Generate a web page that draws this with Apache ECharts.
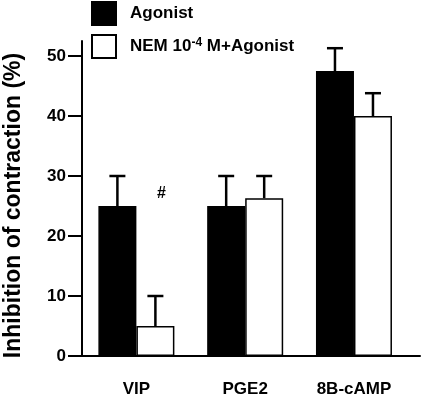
<!DOCTYPE html>
<html>
<head>
<meta charset="utf-8">
<script src="https://cdn.jsdelivr.net/npm/echarts@6/dist/echarts.min.js"></script>
<style>html,body{margin:0;padding:0;background:#fff}#c{width:422px;height:400px}</style>
</head>
<body>
<div id="c"></div>
<script>
const categories = ['VIP', 'PGE2', '8B-cAMP'];
const agonist = [25, 25, 47.5];
const agonistErr = [5, 5, 3.8];
const nem = [5, 26.3, 40];
const nemErr = [5, 3.7, 3.8];
const yTicks = [0, 10, 20, 30, 40, 50];
const annotations = ['#', '', ''];
const annotationValue = [27, null, null];

const FONT = '"Liberation Sans", Arial, sans-serif';
const BW = 38;
const idx = categories.map((c, i) => i);

function errSeries(vals, errs, off) {
  return {
    type: 'custom',
    z: 1,
    data: idx.map(i => [i, vals[i], errs[i]]),
    renderItem: function (params, api) {
      const base = api.coord([api.value(0), api.value(1)]);
      const top = api.coord([api.value(0), api.value(1) + api.value(2)]);
      const x = base[0] + off;
      return {
        type: 'group',
        children: [
          { type: 'line', shape: { x1: x, y1: base[1], x2: x, y2: top[1] }, style: { stroke: '#000', lineWidth: 2.5 } },
          { type: 'line', shape: { x1: x - 8, y1: top[1], x2: x + 8, y2: top[1] }, style: { stroke: '#000', lineWidth: 2.5 } }
        ]
      };
    }
  };
}

const chart = echarts.init(document.getElementById('c'), null, { renderer: 'canvas' });
chart.setOption({
  animation: false,
  grid: { left: 82, right: 2, top: 41, bottom: 44, containLabel: false, outerBoundsMode: 'none' },
  legend: {
    orient: 'vertical', left: 86, top: -4, itemWidth: 24, itemHeight: 23, itemGap: 8,
    icon: 'rect', selectedMode: false,
    textStyle: { fontFamily: FONT, fontWeight: 'bold', fontSize: 17, color: '#000', padding: [0, 0, 0, 9],
      rich: {
        a: { fontFamily: FONT, fontWeight: 'bold', fontSize: 17, color: '#000' },
        sup: { fontFamily: FONT, fontWeight: 'bold', fontSize: 12, color: '#000', padding: [0, 0, 8, 0] }
      }
    },
    formatter: function (name) {
      if (name.indexOf('NEM') === 0) return '{a|NEM 10}{sup|-4}{a| M+Agonist}';
      return '{a|' + name + '}';
    },
    data: ['Agonist', 'NEM 10-4 M+Agonist']
  },
  xAxis: {
    type: 'value', min: -0.5, max: 2.607,
    splitLine: { show: false },
    axisLine: { show: true, onZero: false, lineStyle: { color: '#000', width: 2 } },
    axisTick: { show: false },
    axisLabel: {
      customValues: idx, margin: 25,
      fontFamily: FONT, fontWeight: 'bold', fontSize: 17, color: '#000',
      formatter: v => categories[Math.round(v)] || ''
    }
  },
  yAxis: {
    type: 'value', min: 0, max: 52.5,
    name: 'Inhibition of contraction (%)', nameLocation: 'middle', nameGap: 57,
    nameTextStyle: { fontFamily: FONT, fontWeight: 'bold', fontSize: 23, color: '#000', padding: [0, 14, 0, 0] },
    splitLine: { show: false },
    axisLine: { show: true, onZero: false, lineStyle: { color: '#000', width: 2 } },
    axisTick: { show: true, length: 14, customValues: yTicks, lineStyle: { color: '#000', width: 2 } },
    axisLabel: { customValues: yTicks, margin: 16, fontFamily: FONT, fontWeight: 'bold', fontSize: 17, color: '#000' }
  },
  series: [
    {
      name: 'Agonist', type: 'bar', barWidth: BW, barGap: '0%', z: 2,
      itemStyle: { color: '#000', borderColor: '#000', borderWidth: 1.5 },
      data: idx.map(i => [i, agonist[i]])
    },
    {
      name: 'NEM 10-4 M+Agonist', type: 'bar', barWidth: BW, barGap: '0%', z: 2,
      itemStyle: { color: '#fff', borderColor: '#000', borderWidth: 1.5 },
      data: idx.map(i => [i, nem[i]])
    },
    errSeries(agonist, agonistErr, -BW / 2),
    errSeries(nem, nemErr, BW / 2),
    {
      type: 'custom', z: 3,
      data: idx.filter(i => annotations[i]).map(i => [i, annotationValue[i], annotations[i]]),
      renderItem: function (params, api) {
        const p = api.coord([api.value(0), api.value(1)]);
        return {
          type: 'text',
          x: p[0] + BW / 2 + 6, y: p[1],
          style: { text: String(api.value(2)), fill: '#000', font: 'bold 16px ' + FONT, textAlign: 'center', textVerticalAlign: 'middle' }
        };
      }
    }
  ]
});
</script>
</body>
</html>
